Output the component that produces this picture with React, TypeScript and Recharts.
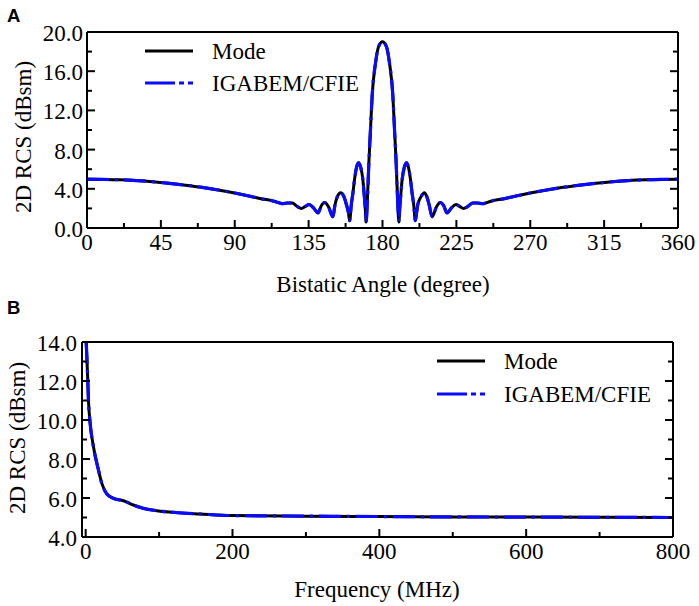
import React from 'react';
import { LineChart, Line, XAxis, YAxis, Legend } from 'recharts';

// ---------- Panel A: bistatic RCS vs angle ----------
const angleDeg = [
  0, 10, 20, 30, 40, 50, 60, 70, 80, 90, 100, 107, 112, 116, 119, 122, 125, 128, 130.6, 133,
  135.3, 138, 140.7, 142.8, 144.8, 147, 149.8, 151, 152.5, 154.5, 156.5, 158, 159.2, 160, 161, 162,
  163, 164.2, 165.4, 166.7, 168, 168.9, 169.5, 170, 170.9, 171.7, 172.7, 173.7, 175.8, 177.6, 180,
  182.4, 184.2, 186.3, 187.3, 188.3, 189.1, 190, 190.5, 191.1, 192, 193.3, 194.6, 195.8, 197, 198,
  199, 200, 200.8, 201.5, 203.5, 205.5, 207, 208.5, 210.2, 213, 215.2, 217.2, 219.3, 222, 224.7,
  227, 229.4, 232, 235, 238, 241, 244, 248, 253, 260, 270, 280, 290, 300, 310, 320, 330, 340, 350, 360,
];
const angleMode = [
  4.98, 4.96, 4.92, 4.84, 4.72, 4.56, 4.37, 4.15, 3.88, 3.57, 3.22, 2.95, 2.82, 2.62, 2.48, 2.55, 2.55, 2.2, 2.0, 2.2,
  2.4, 2.05, 1.55, 2.3, 2.6, 2.2, 1.15, 2.3, 3.2, 3.6, 3.2, 2.4, 1.6, 0.75, 2.4, 3.6,
  5.0, 6.2, 6.65, 6.2, 5.0, 3.3, 2.0, 0.6, 3.3, 6.7, 10.1, 13.5, 16.9, 18.5, 19.0,
  18.5, 16.9, 13.5, 10.1, 6.7, 3.3, 0.6, 2.0, 3.3, 5.0, 6.2, 6.65, 6.2, 5.0, 3.6,
  2.4, 0.75, 1.6, 2.4, 3.2, 3.6, 3.2, 2.3, 1.15, 2.2, 2.6, 2.3, 1.55, 2.05, 2.4,
  2.2, 2.0, 2.2, 2.55, 2.55, 2.48, 2.62, 2.82, 2.95, 3.22, 3.57, 3.88, 4.15, 4.37, 4.56, 4.72, 4.84, 4.92, 4.96, 4.98,
];
const angleIgabem = [
  4.98, 4.96, 4.92, 4.84, 4.72, 4.56, 4.37, 4.15, 3.88, 3.57, 3.22, 2.95, 2.82, 2.62, 2.48, 2.55, 2.55, 2.2, 2.0, 2.2,
  2.4, 2.05, 1.55, 2.3, 2.6, 2.2, 1.15, 2.3, 3.2, 3.6, 3.2, 2.4, 1.6, 0.75, 2.4, 3.6,
  5.0, 6.2, 6.65, 6.2, 5.0, 3.3, 2.0, 0.6, 3.3, 6.7, 10.1, 13.5, 16.9, 18.5, 19.0,
  18.5, 16.9, 13.5, 10.1, 6.7, 3.3, 0.6, 2.0, 3.3, 5.0, 6.2, 6.65, 6.2, 5.0, 3.6,
  2.4, 0.75, 1.6, 2.4, 3.2, 3.6, 3.2, 2.3, 1.15, 2.2, 2.6, 2.3, 1.55, 2.05, 2.4,
  2.2, 2.0, 2.2, 2.55, 2.55, 2.48, 2.62, 2.82, 2.95, 3.22, 3.57, 3.88, 4.15, 4.37, 4.56, 4.72, 4.84, 4.92, 4.96, 4.98,
];
const angleTicks = [0, 45, 90, 135, 180, 225, 270, 315, 360];
const angleMinorTicks = [22.5, 67.5, 112.5, 157.5, 202.5, 247.5, 292.5, 337.5];
const rcsTicksA = [0, 4, 8, 12, 16, 20];
const rcsMinorTicksA = [2, 6, 10, 14, 18];

// ---------- Panel B: RCS vs frequency ----------
const freqMHz = [0.7, 1.6, 2.5, 3.8, 6.1, 10.6, 17.4, 22, 28.9, 37.9, 51.5, 65, 78.7, 97, 124, 156, 200, 300, 400, 500, 600, 700, 800];
const freqMode = [14.0, 13.25, 12.4, 11.0, 9.83, 8.63, 7.44, 6.75, 6.2, 5.98, 5.86, 5.64, 5.47, 5.35, 5.25, 5.18, 5.1, 5.07, 5.05, 5.03, 5.02, 5.01, 5.0];
const freqIgabem = [14.0, 13.25, 12.4, 11.0, 9.83, 8.63, 7.44, 6.75, 6.2, 5.98, 5.86, 5.64, 5.47, 5.35, 5.25, 5.18, 5.1, 5.07, 5.05, 5.03, 5.02, 5.01, 5.0];
const freqTicks = [0, 200, 400, 600, 800];
const freqMinorTicks = [100, 300, 500, 700];
const rcsTicksB = [4, 6, 8, 10, 12, 14];
const rcsMinorTicksB = [5, 7, 9, 11, 13];

const SERIES_ORDER = ['Mode', 'IGABEM/CFIE'];
const SERIES: Record<string, { stroke: string; width: number; dash?: string; legendDash?: string }> = {
  Mode: { stroke: '#000000', width: 3 },
  'IGABEM/CFIE': { stroke: '#0a0aff', width: 3.2, dash: '22 6 3 6', legendDash: '30 4 5 4' },
};

const SERIF = "'Liberation Serif', 'Times New Roman', serif";
const FONT_SIZE = 23;
const lineStyle = { stroke: '#000', strokeWidth: 2 };
const MAJOR_LEN = 8;
const MINOR_LEN = 5;

const zip = (xs: number[], ys: number[]) => xs.map((x, i) => ({ x, y: ys[i] }));

const makeLegend = (gap: number) => (props: any) => {
  const payload = [...(props.payload || [])].sort(
    (a: any, b: any) => SERIES_ORDER.indexOf(a.value) - SERIES_ORDER.indexOf(b.value),
  );
  return (
    <svg width={260} height={80} style={{ overflow: 'visible' }}>
      {payload.map((e: any, i: number) => {
        const s = SERIES[e.value];
        const y = 10 + i * gap;
        return (
          <g key={i}>
            <line x1={0} x2={48} y1={y} y2={y} stroke={s.stroke} strokeWidth={3.2} strokeDasharray={s.legendDash} />
            <text x={67} y={y + 8} fontFamily={SERIF} fontSize={FONT_SIZE} fill="#000">
              {e.value}
            </text>
          </g>
        );
      })}
    </svg>
  );
};

type Orient = 'bottom' | 'top' | 'left' | 'right';

// Tick renderer: draws inward tick marks (long for major, short for minor) and labels for majors.
const makeTick = (orient: Orient, majors: number[], margin: number, label: boolean, fmt: (v: number) => string) =>
  (props: any) => {
    const { x, y, payload } = props;
    const v = payload.value as number;
    const isMajor = majors.some((m) => Math.abs(m - v) < 1e-9);
    const len = isMajor ? MAJOR_LEN : MINOR_LEN;
    let line: any = null;
    let text: any = null;
    if (orient === 'bottom') {
      const ay = y - margin;
      line = <line x1={x} x2={x} y1={ay} y2={ay - len} {...lineStyle} />;
      if (label && isMajor)
        text = <text x={x} y={y + 16} textAnchor="middle" fontFamily={SERIF} fontSize={FONT_SIZE} fill="#000">{fmt(v)}</text>;
    } else if (orient === 'top') {
      const ay = y + margin;
      line = <line x1={x} x2={x} y1={ay} y2={ay + len} {...lineStyle} />;
    } else if (orient === 'left') {
      const ax = x + margin;
      line = <line x1={ax} x2={ax + len} y1={y} y2={y} {...lineStyle} />;
      if (label && isMajor)
        text = <text x={x} y={y + 9} textAnchor="end" fontFamily={SERIF} fontSize={FONT_SIZE} fill="#000">{fmt(v)}</text>;
    } else {
      const ax = x - margin;
      line = <line x1={ax} x2={ax - len} y1={y} y2={y} {...lineStyle} />;
    }
    return (
      <g>
        {line}
        {text}
      </g>
    );
  };

const fmtInt = (v: number) => String(v);
const fmt1 = (v: number) => v.toFixed(1);

function axesFor(
  xDomain: [number, number],
  yDomain: [number, number],
  xTicks: number[],
  xMinor: number[],
  yTicks: number[],
  yMinor: number[],
  yLabelGap: number,
) {
  const xs = [...xTicks, ...xMinor].sort((a, b) => a - b);
  const ys = [...yTicks, ...yMinor].sort((a, b) => a - b);
  return [
    <XAxis key="xb" xAxisId="x" type="number" dataKey="x" domain={xDomain} allowDataOverflow ticks={xs} interval={0}
      orientation="bottom" height={1} tickSize={0} tickMargin={6} axisLine={lineStyle} tickLine={false}
      tick={makeTick('bottom', xTicks, 6, true, fmtInt)} />,
    <XAxis key="xt" xAxisId="xt" type="number" domain={xDomain} allowDataOverflow ticks={xs} interval={0}
      orientation="top" height={1} tickSize={0} tickMargin={0} axisLine={lineStyle} tickLine={false}
      tick={makeTick('top', xTicks, 0, false, fmtInt)} />,
    <YAxis key="yl" yAxisId="y" type="number" dataKey="y" domain={yDomain} allowDataOverflow ticks={ys} interval={0}
      orientation="left" width={1} tickSize={0} tickMargin={yLabelGap} axisLine={lineStyle} tickLine={false}
      tick={makeTick('left', yTicks, yLabelGap, true, fmt1)} />,
    <YAxis key="yr" yAxisId="yr" type="number" domain={yDomain} allowDataOverflow ticks={ys} interval={0}
      orientation="right" width={1} tickSize={0} tickMargin={0} axisLine={lineStyle} tickLine={false}
      tick={makeTick('right', yTicks, 0, false, fmt1)} />,
  ];
}

function lines(dm: any[], di: any[]) {
  return [
    <Line key="m" xAxisId="x" yAxisId="y" data={dm} dataKey="y" name="Mode" type="monotone" stroke={SERIES.Mode.stroke}
      strokeWidth={SERIES.Mode.width} dot={false} activeDot={false} isAnimationActive={false} />,
    <Line key="i" xAxisId="x" yAxisId="y" data={di} dataKey="y" name="IGABEM/CFIE" type="monotone"
      stroke={SERIES['IGABEM/CFIE'].stroke} strokeWidth={SERIES['IGABEM/CFIE'].width}
      strokeDasharray={SERIES['IGABEM/CFIE'].dash} dot={false} activeDot={false} isAnimationActive={false} />,
  ];
}

export default function App() {
  const dataAMode = zip(angleDeg, angleMode);
  const dataAIga = zip(angleDeg, angleIgabem);
  const dataBMode = zip(freqMHz, freqMode);
  const dataBIga = zip(freqMHz, freqIgabem);

  return (
    <div style={{ position: 'absolute', left: 0, top: 0, width: 699, height: 606, background: '#fff' }}>
      <div style={{ position: 'absolute', left: 0, top: 0 }}>
        <LineChart width={699} height={300} margin={{ top: 31, left: 86, right: 20, bottom: 71 }}>
          {axesFor([0, 360], [0, 20], angleTicks, angleMinorTicks, rcsTicksA, rcsMinorTicksA, 4)}
          {lines(dataAMode, dataAIga)}
          <Legend verticalAlign="middle" align="center" layout="vertical" content={makeLegend(32)}
            wrapperStyle={{ left: 145, top: 41, width: 260, height: 80 }} />
        </LineChart>
      </div>
      <div style={{ position: 'absolute', left: 0, top: 300 }}>
        <LineChart width={699} height={306} margin={{ top: 41, left: 81, right: 25, bottom: 68 }}>
          {axesFor([-5, 800], [4, 14], freqTicks, freqMinorTicks, rcsTicksB, rcsMinorTicksB, 5)}
          {lines(dataBMode, dataBIga)}
          <Legend verticalAlign="middle" align="center" layout="vertical" content={makeLegend(33)}
            wrapperStyle={{ left: 437, top: 51, width: 260, height: 80 }} />
        </LineChart>
      </div>
      <svg width={699} height={606} style={{ position: 'absolute', left: 0, top: 0, pointerEvents: 'none' }}>
        <text x={7} y={21.5} fontFamily="'Liberation Sans', Arial, sans-serif" fontWeight="bold" fontSize={18.5} fill="#000">A</text>
        <text x={7} y={313.5} fontFamily="'Liberation Sans', Arial, sans-serif" fontWeight="bold" fontSize={18.5} fill="#000">B</text>
        <text x={383} y={292} textAnchor="middle" fontFamily={SERIF} fontSize={FONT_SIZE} fill="#000">Bistatic Angle (degree)</text>
        <text x={377} y={597} textAnchor="middle" fontFamily={SERIF} fontSize={FONT_SIZE} fill="#000">Frequency (MHz)</text>
        <text transform="translate(31,137) rotate(-90)" textAnchor="middle" fontFamily={SERIF} fontSize={FONT_SIZE} fill="#000">2D RCS (dBsm)</text>
        <text transform="translate(25,438) rotate(-90)" textAnchor="middle" fontFamily={SERIF} fontSize={FONT_SIZE} fill="#000">2D RCS (dBsm)</text>
      </svg>
    </div>
  );
}
